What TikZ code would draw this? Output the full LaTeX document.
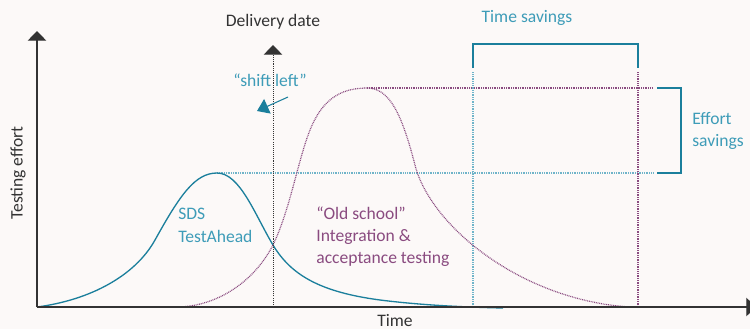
\documentclass[tikz,border=0pt]{standalone}
\usepackage{fontspec}
\setmainfont{Carlito}
\usetikzlibrary{arrows.meta, positioning}
\definecolor{sdsteal}{HTML}{1B7F9C}
\definecolor{sdstext}{HTML}{3E9CB8}
\definecolor{dotteal}{HTML}{6FB4C9}
\definecolor{oldplum}{HTML}{8A4B80}
\definecolor{axisgray}{HTML}{333333}
\definecolor{paper}{HTML}{FCF9F8}
\tikzset{
  axis/.style={axisgray, line width=0.6pt, -{Triangle[width=10.5pt,length=5.5pt]}},
  lbl/.style={font=\fontsize{10}{13}\selectfont, inner sep=0pt},
  fine dots/.style={line width=0.7pt, dash pattern=on 0.5pt off 0.5pt},
  brace/.style={sdsteal, line width=0.7pt},
}
\begin{document}
\begin{tikzpicture}[x=0.02cm, y=-0.02cm]
\fill[paper] (0,0) rectangle (750,329);
\useasboundingbox (0,0) rectangle (750,329);

\coordinate (o) at (37,307);
\coordinate (ytop) at (37,31);
\coordinate (xend) at (756,307);
\coordinate (dbot) at (273,307);
\coordinate (dtop) at (273,45);
\coordinate (sdspeak) at (217,173);
\coordinate (oldpeak) at (367,88);
\coordinate (tsbot) at (473,307);
\coordinate (tstop) at (473,72);
\coordinate (oebot) at (638,307);
\coordinate (oetop) at (638,72);
\coordinate (sdsend) at (653,173);
\coordinate (oldend) at (653,88);

% dotted guide lines
\draw[fine dots, dotteal] (sdspeak) -- (sdsend);
\draw[fine dots, oldplum] (oldpeak) -- (oldend);
\draw[fine dots, dotteal] (tsbot) -- (tstop);
\draw[fine dots, oldplum] (oebot) -- (oetop);

% curves
\draw[sdsteal, line width=0.75pt] (o)
  .. controls (90,300) and (135,276) .. (155,240)
  .. controls (180,195) and (195,173) .. (sdspeak)
  .. controls (240,173) and (255,215) .. (273,245)
  .. controls (291,275) and (320,292) .. (380,300)
  .. controls (420,305) and (460,307) .. (503,308);
\draw[oldplum, fine dots] (180,307)
  .. controls (220,305) and (255,280) .. (273,245)
  .. controls (290,210) and (298,160) .. (310,130)
  .. controls (322,100) and (340,88) .. (oldpeak)
  .. controls (390,88) and (402,115) .. (415,165)
  .. controls (430,225) and (520,300) .. (630,307);

% axes
\draw[axis] (o) -- (ytop);
\draw[axis] (o) -- (xend);
\draw[axis, line width=0.5pt, dash pattern=on 0.6pt off 0.6pt] (dbot) -- (dtop);

\node[lbl, axisgray] at (273,22) (deliv) {Delivery date};
\node[lbl, axisgray, rotate=90] at (18,173) (yl) {Testing effort};
\node[lbl, axisgray] at (395,321) (xl) {Time};

% shift left
\node[lbl, sdstext] at (270,80) (shift) {“shift left”};
\coordinate (sfrom) at (288,97);
\coordinate (sto) at (257,111);
\draw[sdsteal, line width=0.6pt, -{Triangle[width=9pt,length=6.5pt]}] (sfrom) -- (sto);

% brackets
\draw[brace] (tstop) ++(0,-4) |- (473,44) -| (638,68);
\draw[brace] (657,88) -| (681,173) -- (657,173);
\node[lbl, sdstext] at (527,18) (tsav) {Time savings};
\node[lbl, sdstext, anchor=west, align=left] at (692,131) (esav) {Effort\\savings};

% curve labels
\node[lbl, sdstext, anchor=west, align=left] at (178,225) (sds) {SDS\\TestAhead};
\node[lbl, oldplum, anchor=west, align=left, font=\fontsize{10}{12.5}\selectfont] at (316,237) (old) {“Old school”\\Integration \&\\acceptance testing};

\end{tikzpicture}
\end{document}
